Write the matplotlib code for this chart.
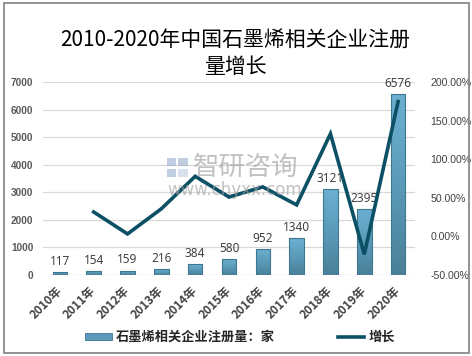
import matplotlib
matplotlib.use("Agg")
import matplotlib.pyplot as plt
import numpy as np
from matplotlib.patches import Rectangle, Patch
from matplotlib.lines import Line2D
from matplotlib.ticker import FuncFormatter, MultipleLocator
from matplotlib.colors import LinearSegmentedColormap

plt.rcParams['font.family'] = ['Noto Sans CJK SC', 'DejaVu Sans']

years = ["2010年", "2011年", "2012年", "2013年", "2014年", "2015年",
         "2016年", "2017年", "2018年", "2019年", "2020年"]
counts = [117, 154, 159, 216, 384, 580, 952, 1340, 3121, 2395, 6576]
growth = [None, 31.6, 3.2, 35.8, 77.8, 51.0, 64.1, 40.8, 132.9, -23.3, 174.6]

title = "2010-2020年中国石墨烯相关企业注册量增长"
bar_label = "石墨烯相关企业注册量：家"
line_label = "增长"

W, H = 472, 356
fig = plt.figure(figsize=(W / 100, H / 100), dpi=100)
fig.patch.set_facecolor("white")

# outer border
fig.patches.append(Rectangle((4 / W, 1 - 353 / H), 465 / W, 350 / H,
                             transform=fig.transFigure, fill=False,
                             edgecolor="#8a8a8a", linewidth=1.3))

ax = fig.add_axes([43 / W, 1 - 275 / H, 372 / W, 193 / H])
x = np.arange(len(years))
ax.set_xlim(-0.5, len(years) - 0.5)
ax.set_ylim(0, 7000)
ax.yaxis.set_major_locator(MultipleLocator(1000))
for s in ax.spines.values():
    s.set_visible(False)
ax.grid(axis="y", color="#d9d9d9", linewidth=0.9)
ax.set_axisbelow(True)
ax.tick_params(axis="both", length=0)
ax.tick_params(axis="y", pad=7)

cmap = LinearSegmentedColormap.from_list("g", ["#4a7f98", "#5b9bb9", "#6cb0d2"])
grad = np.linspace(0, 1, 256).reshape(-1, 1)
bw = 0.43
bars = ax.bar(x, counts, width=bw, color="none", edgecolor="#3f7790",
              linewidth=0.8, zorder=2)
for b in bars:
    bx, by = b.get_x(), b.get_y()
    bh = b.get_height()
    im = ax.imshow(grad, cmap=cmap, aspect="auto", origin="lower",
                   extent=(bx, bx + b.get_width(), by, by + bh), zorder=1.9)
    im.set_clip_path(b)
ax.set_xlim(-0.5, len(years) - 0.5)
ax.set_ylim(0, 7000)

for xi, c in zip(x, counts):
    ax.annotate(str(c), (xi, c), xytext=(0, 3), textcoords="offset points",
                ha="center", va="bottom", fontsize=8.5, color="#404040",
                family=["Noto Sans", "DejaVu Sans"], zorder=5)

ax.set_xticks(x)
ax.set_xticklabels(years, rotation=45, ha="right", va="center",
                   rotation_mode="anchor", fontsize=8.5, fontweight="bold",
                   color="#404040")
ax.tick_params(axis="x", pad=10)
for lab in ax.get_yticklabels():
    lab.set_fontfamily(["Liberation Sans", "DejaVu Sans"])
    lab.set_fontweight("bold")
    lab.set_fontsize(7.2)
    lab.set_color("#595959")

ax2 = ax.twinx()
ax2.set_ylim(-50, 200)
ax2.yaxis.set_major_locator(MultipleLocator(50))
ax2.yaxis.set_major_formatter(FuncFormatter(lambda v, p: f"{v:.2f}%"))
for s in ax2.spines.values():
    s.set_visible(False)
ax2.tick_params(axis="y", length=0, pad=11)
for lab in ax2.get_yticklabels():
    lab.set_fontfamily(["Liberation Sans", "DejaVu Sans"])
    lab.set_fontsize(7.6)
    lab.set_color("#404040")
gx = [xi for xi, g in zip(x, growth) if g is not None]
gy = [g for g in growth if g is not None]
ax2.plot(gx, gy, color="#0c5066", linewidth=2.6, solid_joinstyle="miter",
         zorder=4)

# title
fig.text(235 / W, 1 - 40 / H, "2010-2020年中国石墨烯相关企业注册", ha="center",
         va="center", fontsize=15, color="#000000")
fig.text(235 / W, 1 - 67 / H, "量增长", ha="center", va="center",
         fontsize=15, color="#000000")

# watermark
fig.text(193 / W, 1 - 167 / H, "智研咨询", ha="left", va="center",
         fontsize=19, color="#a0a0a0", alpha=0.65, zorder=10)
fig.text(167 / W, 1 - 190 / H, "www.chyxx.com", ha="left", va="center",
         fontsize=12, color="#a0a0a0", alpha=0.65, zorder=10,
         family=["DejaVu Sans"])
for (lx, ly, lw, lh, col) in [(167, 158, 9, 8, "#8ea4c8"), (178, 158, 10, 8, "#8ea4c8"),
                              (167, 169, 9, 8, "#8ea4c8"), (178, 169, 10, 8, "#b9c7df")]:
    fig.patches.append(Rectangle((lx / W, 1 - (ly + lh) / H), lw / W, lh / H,
                                 transform=fig.transFigure, facecolor=col,
                                 edgecolor="none", alpha=0.55, zorder=10))

handles = [Patch(facecolor="#5b9bb9", edgecolor="#3f7790", linewidth=0.6),
           Line2D([0], [0], color="#0c5066", linewidth=2.6)]
leg = fig.legend(handles, [bar_label, line_label], loc="center",
                 bbox_to_anchor=(240 / W, 1 - 337 / H), ncol=2, frameon=False,
                 prop={"size": 9.5, "weight": "bold"}, handlelength=2.0,
                 handleheight=0.45, handletextpad=0.3, columnspacing=4.8)
for t in leg.get_texts():
    t.set_color("#262626")

fig.savefig("out.png", dpi=100, facecolor="white")
